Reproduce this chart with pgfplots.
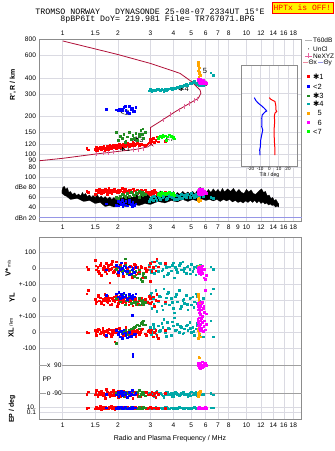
\documentclass[border=0pt]{standalone}
\usepackage{pgfplots}
\pgfplotsset{compat=1.18}
\usepackage{pgfplotstable}
\usepackage{fontspec}
\setmainfont{Liberation Sans}
\newfontfamily\dejavu{DejaVu Sans}
\newfontfamily\mono{Liberation Mono}
\newcommand{\stx}{{\dejavu ✱}}

\definecolor{cRed}{RGB}{255,0,0}
\definecolor{cBlue}{RGB}{0,0,255}
\definecolor{cGreen}{RGB}{34,139,34}
\definecolor{cTeal}{RGB}{0,168,168}
\definecolor{cOrange}{RGB}{255,165,0}
\definecolor{cMag}{RGB}{255,0,255}
\definecolor{cLime}{RGB}{0,255,0}
\definecolor{cProf}{RGB}{176,16,56}
\definecolor{cPink}{RGB}{230,100,160}
\definecolor{cPinkL}{RGB}{240,140,160}
\definecolor{cGrid}{RGB}{218,218,226}
\definecolor{cFrame}{RGB}{140,140,140}
\definecolor{cLav}{RGB}{150,150,230}

\pgfplotstableread{
f h a v yl xl pp ep
1.35 112 72 10 40 0 -95 5
1.38 109 70 -5 60 -5 -80 8
1.50 110 66 50 5 10 -100 3
1.52 114 74 -10 -10 -20 -70 12
1.55 108 70 5 20 5 -110 4
1.58 111 76 -30 -5 15 -85 6
1.60 115 72 20 15 -10 -95 20
1.62 109 68 -45 -20 0 -75 2
1.65 112 74 0 5 25 -105 9
1.67 116 70 15 -30 -15 -90 5
1.70 110 76 -20 10 5 -120 15
1.72 113 72 30 0 -30 -65 3
1.74 117 66 -5 25 10 -100 7
1.76 111 74 10 -15 0 -85 4
1.78 114 78 -15 5 20 -95 11
1.80 118 70 -90 -5 -10 -110 6
1.83 112 72 25 15 -25 -80 25
1.85 115 68 0 -25 5 -100 3
1.88 120 75 -25 0 15 -70 8
1.90 113 71 10 20 -5 -90 5
1.92 116 77 -10 -10 -60 -105 2
1.95 119 73 40 5 10 -85 14
1.98 114 69 -35 -40 0 -95 4
2.00 117 75 5 10 -15 -115 9
2.03 121 71 -15 -5 25 -80 6
2.06 115 74 20 25 5 -100 3
2.10 118 78 -5 -15 -10 -90 18
2.13 122 70 -50 0 -20 -75 5
2.16 116 76 15 15 10 -110 7
2.20 119 72 -20 -25 30 -95 4
2.25 123 68 0 5 0 -85 10
2.30 117 74 -30 -10 -5 -100 6
2.35 120 70 10 20 15 -90 3
2.40 125 77 -10 -35 -10 -120 12
2.45 118 73 25 0 5 -80 5
2.50 121 69 -40 10 -25 -100 8
2.55 124 75 5 -20 10 -95 4
2.60 119 71 -20 -5 -15 -70 6
2.65 122 67 15 15 0 -110 9
2.70 120 73 -60 -30 20 -90 3
2.80 118 75 0 5 -10 -85 7
2.90 122 70 -10 -15 5 -100 5
3.00 125 66 30 10 -5 -95 11
3.05 128 72 -20 -10 15 -80 4
3.10 135 68 5 20 -30 -105 6
3.15 125 74 40 -40 0 -90 8
3.20 130 70 -15 0 10 -115 3
3.25 138 66 60 35 -20 -85 5
3.00 132 71 -80 -20 5 -100 9
3.30 126 68 10 -5 -40 -95 4
3.60 128 70 33 -10 10 -90 5
1.51 107 73 15 -20 -5 -90 6
1.56 112 69 -20 30 20 -100 4
1.61 110 75 35 -15 -10 -85 9
1.66 114 71 -10 0 5 -95 5
1.69 108 77 5 35 -20 -110 3
1.73 115 73 -35 -10 10 -80 8
1.77 110 69 20 15 -5 -100 4
1.81 116 75 -5 -30 15 -90 7
1.86 113 71 45 10 -15 -105 5
1.91 118 77 -20 -5 0 -85 10
1.96 112 73 0 25 20 -95 3
2.01 119 69 -45 -20 -10 -75 6
2.07 116 75 10 5 5 -110 4
2.12 120 71 -15 30 -25 -90 9
2.18 117 77 30 -10 15 -100 5
2.23 121 73 -5 10 -5 -85 7
2.28 118 69 -25 -30 10 -95 3
2.33 122 75 15 0 -15 -105 6
2.38 119 71 -55 20 5 -80 8
2.43 123 77 0 -15 25 -100 4
2.48 120 73 20 5 -5 -90 11
2.58 122 69 -30 -25 0 -110 5
2.68 121 75 5 10 15 -95 7
2.85 120 71 -20 -10 -20 -85 4
2.95 124 67 10 25 10 -100 6
}\tRed

\pgfplotstableread{
f h a v yl xl pp ep
1.72 228 48 -10 30 -20 -95 6
1.95 225 45 20 40 10 -100 4
2.00 223 52 -25 20 -15 -85 9
2.02 228 44 10 50 0 -110 3
2.05 222 50 -5 10 -30 -90 7
2.08 226 47 35 35 5 -75 12
2.10 230 54 0 25 -40 -105 5
2.12 224 43 -30 15 -10 -95 8
2.15 236 49 15 45 15 -80 4
2.18 240 46 -15 20 -5 -100 10
2.20 222 53 5 30 -20 -90 6
2.25 215 44 -20 5 -35 -115 3
2.30 212 51 10 15 0 -85 7
2.35 228 47 -35 25 -25 -95 5
2.38 232 42 -10 10 106 -70 9
2.40 220 50 0 30 -140 148 4
2.45 218 45 -25 20 -15 -100 6
2.50 235 48 5 40 -10 -90 8
2.30 240 55 -40 35 -30 -105 3
}\tBlue

\pgfplotstableread{
f h a v yl xl pp ep
1.95 150 60 -5 10 -70 -90 5
2.00 130 58 10 20 -10 -100 8
2.05 140 62 5 -10 5 -85 4
2.10 135 66 -20 15 -5 -95 7
2.15 145 64 -10 40 0 -110 3
2.20 128 60 20 -5 10 -80 10
2.25 138 68 -30 0 -15 -90 6
2.30 150 62 -15 20 15 -105 4
2.35 132 70 -40 -20 20 -95 12
2.40 142 66 -25 5 25 -75 5
2.45 135 64 -50 -15 30 -100 8
2.50 148 70 -20 -25 35 -90 6
2.55 130 68 -60 -10 45 -85 3
2.60 140 72 -35 -30 40 -110 9
2.65 155 66 -70 -5 55 -95 4
2.70 145 70 -80 -20 60 -80 7
2.72 160 64 -45 0 50 -100 5
2.75 135 68 -30 -25 70 -90 10
2.80 150 66 -55 -15 45 -105 6
2.18 125 62 60 -30 -5 -95 4
2.60 145 60 -10 10 20 -70 3
}\tGreen

\pgfplotstableread{
f h a v yl xl pp ep
2.95 318 52 20 -20 10 -90 5
3.00 325 56 -10 30 30 -100 8
3.05 315 60 40 -50 0 -85 4
3.10 320 54 0 10 50 -95 6
3.15 322 62 -30 -40 20 -110 3
3.20 318 58 15 60 -10 -80 9
3.30 325 64 -20 -10 40 -100 5
3.40 318 56 30 20 10 -90 7
3.50 322 60 -5 -60 30 -105 4
3.60 328 66 25 -20 0 -95 10
3.70 325 58 -40 40 60 -85 6
3.80 330 62 10 -30 20 -100 3
3.90 333 68 -15 10 -20 -90 8
4.00 335 60 35 -50 40 -110 5
4.10 332 64 5 20 10 -80 7
4.20 340 56 -25 -10 50 -95 4
4.30 338 62 20 60 0 -105 9
4.40 345 66 -10 -40 30 -90 6
4.50 342 58 40 0 -10 -85 3
4.60 350 64 0 -20 20 -100 5
4.70 355 60 -30 30 40 -95 8
4.80 352 66 15 -60 10 -110 4
4.90 360 62 -5 10 60 -90 7
5.00 365 68 25 -30 0 -80 5
5.10 370 64 -20 20 30 -100 6
5.20 375 60 10 -10 -20 -95 9
5.30 362 66 -40 40 20 -85 4
5.40 358 62 5 -20 40 -105 5
5.50 355 58 -15 0 10 -90 3
5.60 350 66 20 -40 50 -100 7
5.80 352 62 -10 10 -30 -95 4
6.40 440 60 10 40 70 -90 6
6.60 420 58 -5 70 -30 -100 6
3.25 330 55 50 -70 -30 -75 8
3.55 315 63 -50 70 80 -115 5
4.05 328 57 -60 -80 90 -90 4
3.02 322 58 -25 45 -15 -95 6
3.12 318 62 10 -25 35 -105 4
3.35 322 60 35 25 5 -90 7
3.45 327 64 -15 -35 55 -100 5
3.65 320 56 5 15 -25 -85 9
3.75 330 66 -30 50 25 -95 3
3.95 327 60 20 -15 65 -110 6
4.15 336 64 -5 35 15 -90 4
4.35 343 58 30 -55 35 -100 8
4.55 347 62 -20 5 -5 -85 5
4.75 350 66 10 -25 45 -95 7
4.95 362 60 -35 15 25 -105 4
5.15 368 64 0 -45 5 -90 6
5.35 366 62 15 25 55 -100 3
5.55 352 60 -25 -5 -15 -95 5
}\tTeal

\pgfplotstableread{
f h a v yl xl pp ep
5.45 530 55 10 20 -40 -90 5
5.50 520 56 0 -5 30 -80 8
5.45 505 54 5 30 10 -100 4
5.50 495 57 -10 10 -20 140 6
5.55 480 55 15 -30 -160 -95 3
5.50 465 53 -5 0 0 -85 10
5.45 455 56 0 40 20 -110 5
5.55 445 54 10 -20 -10 -90 7
5.50 430 58 -15 5 15 -100 4
5.60 420 55 5 -15 -30 -75 6
5.50 410 52 0 25 -5 -95 5
}\tOrange

\pgfplotstableread{
f h a v yl xl pp ep
5.42 395 68 0 -20 80 95 5
5.45 385 72 -10 -40 60 85 8
5.48 380 70 -20 -60 40 100 4
5.50 390 74 5 -80 20 75 6
5.52 375 66 -30 -30 90 90 3
5.55 370 76 -5 -50 50 105 10
5.58 365 70 -15 -70 30 80 5
5.60 390 72 10 -10 70 95 7
5.62 372 68 -25 -90 10 70 4
5.65 375 74 -40 -40 45 100 6
5.68 368 70 0 -60 85 85 5
5.70 370 72 -20 -20 25 90 8
5.75 360 76 15 -100 60 110 3
5.80 385 70 -10 -50 5 80 6
5.85 375 68 -60 -35 35 95 4
5.90 362 72 -5 -75 70 85 7
5.75 380 66 -30 -15 95 75 5
5.95 370 70 -70 60 15 100 9
6.05 365 68 -45 -85 50 90 4
}\tMag

\pgfplotstableread{
f h a
3.30 135 66
3.35 138 68
3.40 140 65
3.45 137 70
3.50 142 67
3.55 139 69
3.60 141 66
3.70 138 68
3.80 143 70
3.90 140 66
4.00 137 68
4.05 133 65
3.65 130 69
}\tLime

\begin{document}
\begin{tikzpicture}
\path[use as bounding box] (0pt,0pt) rectangle (335pt,451pt);

\node[font=\mono\fontsize{8.3}{9}\selectfont] at (150pt,438.8pt) {TROMSO NORWAY\ \ \ DYNASONDE 25-08-07 2334UT 15°E};
\node[font=\mono\fontsize{8.3}{9}\selectfont] at (157.5pt,431.3pt) {8pBP6It DoY= 219.981 File= TR767071.BPG};
\node[font=\mono\fontsize{8}{9}\selectfont, fill=yellow, draw=red, text=red, inner sep=1.5pt, minimum height=11pt] at (302.5pt,443.5pt) {HPTx is OFF!};

% ---------------- height panel
\begin{axis}[scale only axis, width=262.2pt, height=132.5pt, at={(39.5pt,279pt)}, anchor=south west,
  xmode=log, xmin=0.7468, xmax=20,
  xtick={1,1.5,2,3,4,5,6,7,8,10,12,14,16,18},
  xticklabels={1,1.5,2,3,4,5,6,7,8,10,12,14,16,18},
  ymode=log, ymin=73.1, ymax=800,
  ytick={80,90,100,120,150,200,300,400,600,800},
  yticklabels={80,90,100,120,150,200,300,400,600,800},
  minor xtick={}, minor ytick={}, xmajorgrids, ymajorgrids,
  major grid style={cGrid, line width=0.6pt},
  axis line style={cFrame, line width=0.7pt},
  major tick length=0pt,
  tick label style={font=\fontsize{6.6}{7}\selectfont},
  axis x line*=top, axis y line*=box,
  xticklabel pos=upper]
\addplot[cProf, line width=0.8pt] coordinates {
(0.7468,89.6) (1.0,93.6) (1.5,101) (2.0,106) (2.5,110) (2.9,115) (3.0,119) (3.05,121) (3.08,118) (3.02,120) (3.0,121) (3.0,163)
(3.39,182) (4.09,217) (4.73,245) (5.47,277) (5.65,303) (5.59,321) (5.04,373) (4.35,434) (3.39,490) (2.99,520) (1.97,613) (1.0,779)};
\addplot[only marks, mark=|, mark size=2.4pt, cPink, mark options={line width=0.7pt}] coordinates {
(1.53,101.5) (1.66,103) (1.77,104) (1.89,105) (2.42,109) (2.58,110.5) (2.75,112)
(3.53,187) (3.83,205) (4.31,224) (4.6,237) (4.9,251) (5.2,265) (5.4,273)};

\addplot[only marks, mark=square*, mark size=0.8pt, cTeal] table[x=f,y=h]{\tTeal};
\addplot[only marks, mark=square*, mark size=0.8pt, cRed] table[x=f,y=h]{\tRed};
\addplot[only marks, mark=square*, mark size=0.8pt, cGreen] table[x=f,y=h]{\tGreen};
\addplot[only marks, mark=square*, mark size=0.8pt, cBlue] table[x=f,y=h]{\tBlue};
\addplot[only marks, mark=square*, mark size=0.8pt, cLime] table[x=f,y=h]{\tLime};
\addplot[only marks, mark=square*, mark size=0.8pt, cOrange] table[x=f,y=h]{\tOrange};
\addplot[only marks, mark=square*, mark size=0.8pt, cMag] table[x=f,y=h]{\tMag};

\node[font=\fontsize{7.5}{8}\selectfont] at (axis cs:2.18,112) {\stx1};
\node[font=\fontsize{7.5}{8}\selectfont] at (axis cs:2.18,213) {<2};
\node[font=\fontsize{7.5}{8}\selectfont] at (axis cs:2.58,130) {\stx3};
\node[font=\fontsize{7.5}{8}\selectfont] at (axis cs:4.54,327) {\stx4};
\node[font=\fontsize{7.5}{8}\selectfont] at (axis cs:5.95,455) {5};
\node[font=\fontsize{7.5}{8}\selectfont] at (axis cs:6.0,358) {6};
\node[font=\fontsize{7.5}{8}\selectfont] at (axis cs:3.84,133) {<7};
\end{axis}

% ---------------- amplitude panel
\begin{axis}[scale only axis, width=262.2pt, height=49.7pt, at={(39.5pt,229.3pt)}, anchor=south west,
  xmode=log, xmin=0.7468, xmax=20,
  xtick={1,1.5,2,3,4,5,6,7,8,10,12,14,16,18},
  xticklabels={1,1.5,2,3,4,5,6,7,8,10,12,14,16,18},
  extra x ticks={9}, extra x tick labels={9}, extra x tick style={grid=none},
  ymin=12.1, ymax=110.2,
  ytick={40,60,80,100}, yticklabels={40,60,dBe 80,100},
  extra y ticks={20}, extra y tick labels={dBn 20},
  extra y tick style={major grid style={cLav, line width=0.7pt}},
  minor xtick={}, minor ytick={}, xmajorgrids, ymajorgrids,
  major grid style={cGrid, line width=0.6pt},
  axis line style={cFrame, line width=0.7pt},
  major tick length=0pt,
  axis x line*=bottom, axis y line*=box,
  tick label style={font=\fontsize{6.6}{7}\selectfont}]
\addplot[fill=black, draw=black, line width=0.2pt] coordinates {
(0.99,74) (1.0,80) (1.02,82) (1.04,76) (1.06,79) (1.08,70) (1.1,72) (1.13,66) (1.16,69) (1.19,64) (1.22,67) (1.25,63)
(1.28,70) (1.3,65) (1.33,68) (1.36,62) (1.4,65) (1.43,60) (1.46,64) (1.5,60) (1.54,66) (1.58,59) (1.62,63) (1.66,58)
(1.7,62) (1.75,57) (1.8,61) (1.85,56) (1.9,60) (1.95,55) (2.0,59) (2.05,62) (2.1,57) (2.15,63) (2.2,59) (2.3,64)
(2.4,60) (2.5,66) (2.6,62) (2.7,68) (2.8,63) (2.9,66) (3.0,60) (3.1,64) (3.2,61) (3.3,66) (3.4,73) (3.5,64)
(3.6,69) (3.7,64) (3.8,70) (3.9,65) (4.0,72) (4.1,65) (4.2,70) (4.35,66) (4.5,72) (4.65,67) (4.8,71) (4.95,66)
(5.1,72) (5.25,67) (5.4,74) (5.6,80) (5.75,71) (5.9,75) (6.05,69) (6.2,76) (6.4,70) (6.6,77) (6.8,71) (7.0,76)
(7.2,70) (7.4,78) (7.6,71) (7.9,77) (8.2,72) (8.5,78) (8.8,70) (9.1,76) (9.4,70) (9.7,68) (10.0,76) (10.3,71)
(10.6,75) (10.9,68) (11.2,66) (11.5,70) (11.8,74) (12.1,77) (12.4,70) (12.7,72) (13.0,63) (13.3,65) (13.6,58) (13.9,60)
(14.2,54) (14.5,56) (14.8,50) (15.0,48)
(15.0,41) (14.7,43) (14.4,41) (14.1,45) (13.8,44) (13.5,47) (13.2,45) (12.9,49) (12.6,47) (12.3,51) (12.0,48) (11.7,53)
(11.4,49) (11.1,54) (10.8,50) (10.5,54) (10.2,50) (9.9,53) (9.6,49) (9.3,52) (9.0,50) (8.7,54) (8.4,51) (8.1,56)
(7.8,53) (7.5,56) (7.2,52) (6.9,56) (6.6,53) (6.3,56) (6.0,54) (5.7,57) (5.4,53) (5.1,56) (4.8,52) (4.5,56)
(4.2,51) (3.9,54) (3.6,49) (3.3,52) (3.0,46) (2.8,48) (2.6,44) (2.4,47) (2.2,42) (2.0,45) (1.9,41) (1.8,44)
(1.7,42) (1.6,50) (1.5,48) (1.4,54) (1.3,52) (1.2,58) (1.1,56) (1.05,62) (1.02,64) (0.99,68)} -- cycle;
\addplot[only marks, mark=square*, mark size=0.8pt, cTeal] table[x=f,y=a]{\tTeal};
\addplot[only marks, mark=square*, mark size=0.8pt, cRed] table[x=f,y=a]{\tRed};
\addplot[only marks, mark=square*, mark size=0.8pt, cGreen] table[x=f,y=a]{\tGreen};
\addplot[only marks, mark=square*, mark size=0.8pt, cBlue] table[x=f,y=a]{\tBlue};
\addplot[only marks, mark=square*, mark size=0.8pt, cLime] table[x=f,y=a]{\tLime};
\addplot[only marks, mark=square*, mark size=0.8pt, cOrange] table[x=f,y=a]{\tOrange};
\addplot[only marks, mark=square*, mark size=0.8pt, cMag] table[x=f,y=a]{\tMag};
\end{axis}

% ---------------- lower panel
\begin{axis}[scale only axis, width=262.2pt, height=181.8pt, at={(39.5pt,31.7pt)}, anchor=south west,
  xmode=log, xmin=0.7468, xmax=20,
  xtick={1,1.5,2,3,4,5,6,7,8,10,12,14,16,18},
  xticklabels={1,1.5,2,3,4,5,6,7,8,10,12,14,16,18},
  ymin=0, ymax=181.8,
  ytick={6.6,12,71.4,87.3,103.3,119.3,135.3,151,167},
  yticklabels={0.1,10.,-100,0,+-100,0,+-100,0,100},
  extra y ticks={26,54.3}, extra y tick labels={,},
  extra y tick style={major grid style={gray!75, line width=0.7pt}},
  minor xtick={}, minor ytick={}, xmajorgrids, ymajorgrids,
  major grid style={cGrid, line width=0.6pt},
  axis line style={cFrame, line width=0.7pt},
  major tick length=0pt,
  tick label style={font=\fontsize{6.6}{7}\selectfont},
  every axis plot/.append style={only marks, mark=square*, mark size=0.8pt}]
\addplot[cTeal] table[x=f,y expr=151+0.16*\thisrow{v}]{\tTeal};
\addplot[cTeal] table[x=f,y expr=119.3+0.16*\thisrow{yl}]{\tTeal};
\addplot[cTeal] table[x=f,y expr=87.3+0.16*\thisrow{xl}]{\tTeal};
\addplot[cTeal] table[x=f,y expr=40.15+0.157*\thisrow{pp}]{\tTeal};
\addplot[cTeal] table[x=f,y expr=12+2.7*(log10(\thisrow{ep})-1)]{\tTeal};
\addplot[cRed] table[x=f,y expr=151+0.16*\thisrow{v}]{\tRed};
\addplot[cRed] table[x=f,y expr=119.3+0.16*\thisrow{yl}]{\tRed};
\addplot[cRed] table[x=f,y expr=87.3+0.16*\thisrow{xl}]{\tRed};
\addplot[cRed] table[x=f,y expr=40.15+0.157*\thisrow{pp}]{\tRed};
\addplot[cRed] table[x=f,y expr=12+2.7*(log10(\thisrow{ep})-1)]{\tRed};
\addplot[cGreen] table[x=f,y expr=151+0.16*\thisrow{v}]{\tGreen};
\addplot[cGreen] table[x=f,y expr=119.3+0.16*\thisrow{yl}]{\tGreen};
\addplot[cGreen] table[x=f,y expr=87.3+0.16*\thisrow{xl}]{\tGreen};
\addplot[cGreen] table[x=f,y expr=40.15+0.157*\thisrow{pp}]{\tGreen};
\addplot[cGreen] table[x=f,y expr=12+2.7*(log10(\thisrow{ep})-1)]{\tGreen};
\addplot[cBlue] table[x=f,y expr=151+0.16*\thisrow{v}]{\tBlue};
\addplot[cBlue] table[x=f,y expr=119.3+0.16*\thisrow{yl}]{\tBlue};
\addplot[cBlue] table[x=f,y expr=87.3+0.16*\thisrow{xl}]{\tBlue};
\addplot[cBlue] table[x=f,y expr=40.15+0.157*\thisrow{pp}]{\tBlue};
\addplot[cBlue] table[x=f,y expr=12+2.7*(log10(\thisrow{ep})-1)]{\tBlue};
\addplot[cOrange] table[x=f,y expr=151+0.16*\thisrow{v}]{\tOrange};
\addplot[cOrange] table[x=f,y expr=119.3+0.16*\thisrow{yl}]{\tOrange};
\addplot[cOrange] table[x=f,y expr=87.3+0.16*\thisrow{xl}]{\tOrange};
\addplot[cOrange] table[x=f,y expr=40.15+0.157*\thisrow{pp}]{\tOrange};
\addplot[cOrange] table[x=f,y expr=12+2.7*(log10(\thisrow{ep})-1)]{\tOrange};
\addplot[cMag] table[x=f,y expr=151+0.16*\thisrow{v}]{\tMag};
\addplot[cMag] table[x=f,y expr=119.3+0.16*\thisrow{yl}]{\tMag};
\addplot[cMag] table[x=f,y expr=87.3+0.16*\thisrow{xl}]{\tMag};
\addplot[cMag] table[x=f,y expr=40.15+0.157*\thisrow{pp}]{\tMag};
\addplot[cMag] table[x=f,y expr=12+2.7*(log10(\thisrow{ep})-1)]{\tMag};
\node[font=\fontsize{6.6}{7}\selectfont, fill=white, inner sep=0.6pt] at (axis cs:0.899,54.3) {x\ \ 90};
\node[font=\fontsize{6.6}{7}\selectfont, fill=white, inner sep=0.6pt] at (axis cs:0.899,26) {o -90};
\node[font=\fontsize{6.6}{7}\selectfont] at (axis cs:0.82,40.3) {PP};
\end{axis}

% ---------------- tilt inset
\begin{axis}[scale only axis, at={(241.7pt,284.3pt)}, anchor=south west, width=55.6pt, height=101pt,
  xmin=-30, xmax=30, ymode=log, ymin=80.5, ymax=498,
  xtick={-20,-10,0,10,20}, xticklabels={-20,-10,0,10,20},
  ytick={100,120,150,200,300,400}, yticklabels={},
  minor xtick={}, minor ytick={}, xmajorgrids, ymajorgrids,
  major grid style={cGrid, line width=0.6pt},
  axis line style={cFrame, line width=0.7pt},
  axis background/.style={fill=white},
  major tick length=0pt,
  tick label style={font=\fontsize{4.6}{5}\selectfont, inner sep=0.4pt}]
\addplot[cBlue, line width=1pt] coordinates {
(-16.4,280) (-14.6,265) (-12.1,253) (-8.4,241) (-5.6,231) (-3.0,220) (-4.9,216) (-7.8,205) (-8.4,193)
(-8.1,181) (-8.4,166) (-7.3,156) (-8.4,143) (-9.5,130) (-9.9,115) (-10.6,109) (-10.2,99)};
\addplot[cRed, line width=1pt] coordinates {
(-0.2,280) (1.3,272) (4.1,265) (5.9,261) (6.7,245) (7.0,224) (7.8,218) (5.9,212) (5.2,200)
(5.6,181) (4.9,156) (5.2,130) (5.9,109) (5.9,99)};
\end{axis}
\node[font=\fontsize{5.2}{6}\selectfont, inner sep=0pt] at (269.5pt,275.9pt) {Tilt / deg};

% legend (key glyphs and texts)
\begin{scope}[font=\fontsize{6.5}{7}\selectfont]
\draw[gray!60, line width=0.7pt] (305pt,411pt)--(312pt,411pt); \node[anchor=west, inner sep=0.5pt] at (312.5pt,411pt) {T60dB};
\fill[black] (308.5pt,402pt) circle (0.5pt); \node[anchor=west, inner sep=0.5pt] at (312.5pt,402pt) {UnCl};
\draw[cPink, line width=0.6pt] (305pt,395pt)--(312pt,395pt) (308.5pt,392.5pt)--(308.5pt,397.5pt); \node[anchor=west, inner sep=0.5pt] at (312.5pt,395pt) {NeXYZ};
\draw[cPinkL, line width=0.7pt] (303pt,388.3pt)--(308pt,388.3pt); \node[anchor=west, inner sep=0.3pt] at (308pt,388.3pt) {Θx};
\draw[cLav, line width=0.7pt] (318pt,388.3pt)--(323pt,388.3pt); \node[anchor=west, inner sep=0.3pt] at (323pt,388.3pt) {Θy};
\end{scope}
\begin{scope}[font=\fontsize{7.5}{8}\selectfont]
\fill[cRed] (307pt,373pt) rectangle +(2.6pt,2.6pt); \node[anchor=west, inner sep=0.5pt] at (312.5pt,374.3pt) {\stx1};
\fill[cBlue] (307pt,363pt) rectangle +(2.6pt,2.6pt); \node[anchor=west, inner sep=0.5pt] at (312.5pt,364.3pt) {<2};
\fill[cGreen] (307pt,353.7pt) rectangle +(2.6pt,2.6pt); \node[anchor=west, inner sep=0.5pt] at (312.5pt,355pt) {\stx3};
\fill[cTeal] (307pt,345.7pt) rectangle +(2.6pt,2.6pt); \node[anchor=west, inner sep=0.5pt] at (312.5pt,347pt) {\stx4};
\fill[cOrange] (307pt,336.4pt) rectangle +(2.6pt,2.6pt); \node[anchor=west, inner sep=0.5pt] at (312.5pt,337.7pt) {\phantom{<}5};
\fill[cMag] (307pt,327pt) rectangle +(2.6pt,2.6pt); \node[anchor=west, inner sep=0.5pt] at (312.5pt,328.3pt) {\phantom{<}6};
\fill[cLime] (307pt,318pt) rectangle +(2.6pt,2.6pt); \node[anchor=west, inner sep=0.5pt] at (312.5pt,319.3pt) {<7};
\end{scope}

\node[rotate=90, font=\bfseries\fontsize{7}{8}\selectfont] at (13pt,366pt) {R', R / km};
\node[rotate=90, font=\bfseries\fontsize{7.5}{8}\selectfont] at (8pt,183pt) {V*\,{\mdseries\fontsize{4.5}{5}\selectfont m/s}};
\node[rotate=90, font=\bfseries\fontsize{7.5}{8}\selectfont] at (12pt,153pt) {YL};
\node[rotate=90, font=\fontsize{5}{6}\selectfont] at (11pt,129pt) {/km};
\node[rotate=90, font=\bfseries\fontsize{7.5}{8}\selectfont] at (11pt,118pt) {XL};
\node[rotate=90, font=\bfseries\fontsize{7}{8}\selectfont] at (12pt,42pt) {EP / deg};
\node[font=\fontsize{7}{8}\selectfont] at (170pt,12pt) {Radio and Plasma Frequency / MHz};
\end{tikzpicture}
\end{document}
